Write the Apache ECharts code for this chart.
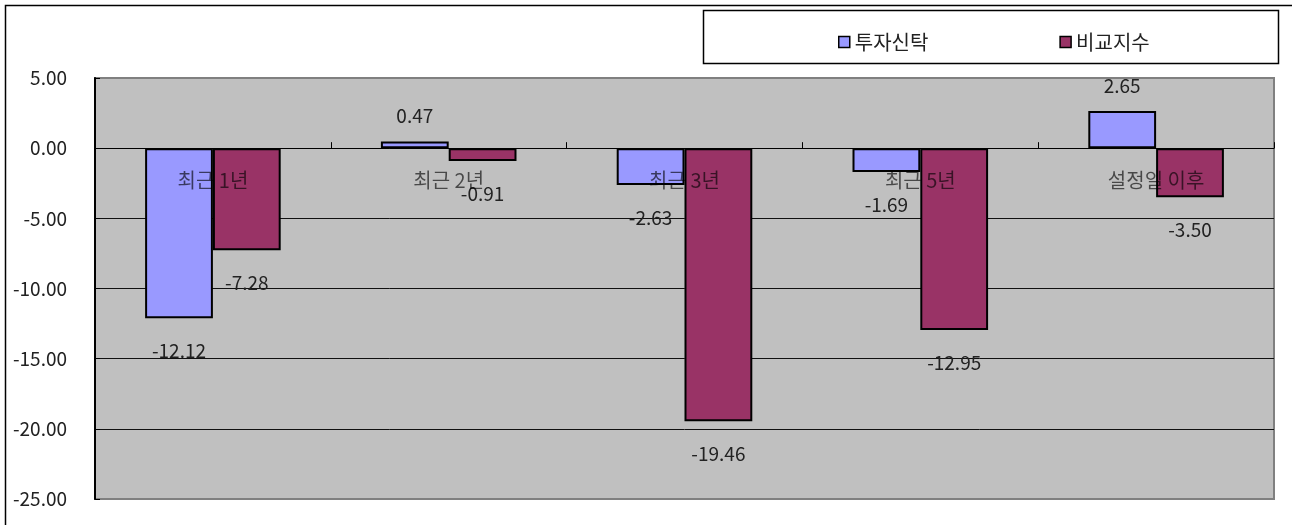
<!DOCTYPE html>
<html>
<head>
<meta charset="utf-8">
<script src="https://cdn.jsdelivr.net/npm/echarts@6/dist/echarts.min.js"></script>
<style>
html,body{margin:0;padding:0;background:#fff;}
#c{width:1292px;height:525px;}
</style>
</head>
<body>
<div id="c"></div>
<script>
const categories = ['최근 1년', '최근 2년', '최근 3년', '최근 5년', '설정일 이후'];
const fundValues = [-12.12, 0.47, -2.63, -1.69, 2.65];
const indexValues = [-7.28, -0.91, -19.46, -12.95, -3.50];
const seriesNames = ['투자신탁', '비교지수'];

const FONT = 'Noto Sans CJK KR';

function toItems(arr) {
  return arr.map(v => ({
    value: v,
    label: {
      position: v < 0 ? 'bottom' : 'top',
      distance: v < 0 ? 23 : 16
    }
  }));
}

const chart = echarts.init(document.getElementById('c'), null, {renderer: 'canvas'});
chart.setOption({
  animation: false,
  backgroundColor: '#fff',
  textStyle: {fontFamily: FONT},
  graphic: [
    {type: 'rect', z: -10, shape: {x: 5.5, y: 5.5, width: 1300, height: 530},
     style: {fill: '#fff', stroke: '#000', lineWidth: 1.5}},
    {type: 'rect', z: -5, shape: {x: 703.5, y: 10.5, width: 575, height: 53},
     style: {fill: '#fff', stroke: '#000', lineWidth: 1.5}}
  ],
  legend: {
    left: 833,
    top: 27,
    itemWidth: 11,
    itemHeight: 11,
    itemGap: 131,
    icon: 'rect',
    textStyle: {fontFamily: FONT, fontSize: 20, color: '#222', lineHeight: 20},
    itemStyle: {borderColor: '#000', borderWidth: 1.5},
    data: seriesNames
  },
  grid: {
    left: 95, right: 18, top: 78, bottom: 26,
    outerBoundsMode: 'none',
    containLabel: false,
    show: true,
    backgroundColor: '#c0c0c0',
    borderColor: '#808080',
    borderWidth: 2
  },
  xAxis: {
    type: 'category',
    data: categories,
    z: 10,
    axisLine: {onZero: true, lineStyle: {color: '#000', width: 1}},
    axisTick: {show: true, inside: true, length: 6, lineStyle: {color: '#000', width: 1}},
    axisLabel: {show: false},
    splitLine: {show: false}
  },
  yAxis: {
    type: 'value',
    min: -25,
    max: 5,
    interval: 5,
    axisLine: {show: true, lineStyle: {color: '#000', width: 2}},
    axisTick: {show: true, inside: true, length: 5, lineStyle: {color: '#000'}},
    axisLabel: {
      margin: 28,
      fontFamily: FONT,
      fontSize: 19,
      color: '#222',
      formatter: v => v.toFixed(2)
    },
    splitLine: {
      show: true,
      lineStyle: {color: ['#808080', '#111', '#111', '#111', '#111', '#111', '#808080'], width: 1}
    }
  },
  series: [
    {
      name: seriesNames[0],
      type: 'bar',
      data: toItems(fundValues),
      barGap: '0%',
      barCategoryGap: '42.5%',
      itemStyle: {color: '#9999ff', borderColor: '#000', borderWidth: 2},
      label: {
        show: true,
        fontFamily: FONT,
        fontSize: 19,
        color: '#222',
        formatter: p => p.value.toFixed(2)
      }
    },
    {
      name: seriesNames[1],
      type: 'bar',
      data: toItems(indexValues),
      barGap: '0%',
      barCategoryGap: '42.5%',
      itemStyle: {color: '#993366', borderColor: '#000', borderWidth: 2},
      label: {
        show: true,
        fontFamily: FONT,
        fontSize: 19,
        color: '#222',
        formatter: p => p.value.toFixed(2)
      }
    },
    {
      name: 'categoryLabels',
      type: 'scatter',
      silent: true,
      z: 20,
      symbol: 'rect',
      symbolSize: 1,
      itemStyle: {color: 'rgba(0,0,0,0)'},
      data: categories.map(c => [c, 0]),
      label: {
        show: true,
        position: 'bottom',
        distance: 22,
        fontFamily: FONT,
        fontSize: 20,
        color: 'rgba(0,0,0,0.78)',
        formatter: p => p.value[0]
      }
    }
  ]
});
</script>
</body>
</html>
